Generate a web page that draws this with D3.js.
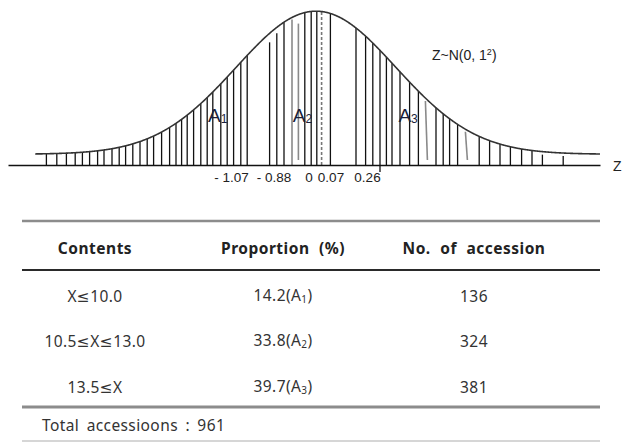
<!DOCTYPE html>
<html>
<head>
<meta charset="utf-8">
<script src="https://cdn.jsdelivr.net/npm/d3@7"></script>
<style>
  html, body { margin: 0; padding: 0; background: #fff; }
  svg { display: block; }
</style>
</head>
<body>
<svg id="chart" width="622" height="444"></svg>
<script>
// ---- Standard normal curve Z~N(0, 1²) with hatching ----
const zDomain = [-3.85, 3.55];          // extent of the Z axis
const curveZ = [-3.51, 3.55];           // extent of the drawn density curve

// hatch strokes under the curve (z positions)
const hatchZ = [
  -3.37, -3.24, -3.12, -3.01, -2.92, -2.83, -2.73, -2.65, -2.55, -2.46,
  -2.38, -2.29, -2.20, -2.11, -2.03, -1.93, -1.83, -1.75, -1.68, -1.61,
  -1.53, -1.44, -1.36, -1.29, -1.19, -1.11, -1.03, -0.94, -0.86,
  -0.40, -0.14, -0.06, 0.01,
  0.18, 0.50, 0.62, 0.71, 0.80, 0.88, 0.95, 1.05, 1.17, 1.28,
  1.50, 1.59, 1.67, 1.77, 2.04, 2.17, 2.30, 2.43, 2.57, 2.70
];
const looseHatchZ = [-0.58, -0.49];      // strokes stopping short of the curve
const greyHatchZ = [-0.30, -0.22, 1.38, 1.88];
const tailHatchZ = [2.83, 3.09];
const meanZ = 0.07;
const markedZ = 0.80;                    // stroke that runs through the axis

const zTickLabels = ["- 1.07", "- 0.88", "0", "0.07", "0.26"];
const areaLabels = ["A", "A", "A"];
const areaIndex = ["1", "2", "3"];
const distLabel = "Z~N(0, 1";
const axisName = "Z";

// ---- Table ----
const headers = ["Contents", "Proportion (%)", "No. of accession"];
const contents = ["X≤10.0", "10.5≤X≤13.0", "13.5≤X"];
const proportions = [14.2, 33.8, 39.7];
const accessions = [136, 324, 381];
const totalAccessions = 961;

// ---- drawing ----
const svg = d3.select("#chart");
const pdf = z => Math.exp(-z * z / 2) / Math.sqrt(2 * Math.PI);

const x = d3.scaleLinear().domain(zDomain).range([8, 600]);
const y = d3.scaleLinear().domain([-0.03, 0.4]).range([165, 10.8]);
const base = y(-0.03);

const plot = svg.append("g");

// hatching
plot.append("g").selectAll("line").data(hatchZ).join("line")
  .attr("x1", d => x(d)).attr("x2", d => x(d))
  .attr("y1", d => d === markedZ ? base + 7 : base)
  .attr("y2", d => y(pdf(d)))
  .attr("stroke", "#111").attr("stroke-width", 1.3);

plot.append("g").selectAll("line").data(looseHatchZ).join("line")
  .attr("x1", d => x(d)).attr("x2", d => x(d))
  .attr("y1", base)
  .attr("y2", (d, i) => y(pdf(d)) + (i === 0 ? 9 : 6))
  .attr("stroke", "#111").attr("stroke-width", 1.3);

plot.append("g").selectAll("line").data(greyHatchZ).join("line")
  .attr("x1", d => x(d) - (d > 1 ? 1 : 0)).attr("x2", d => x(d) + (d > 1 ? 1 : 0))
  .attr("y1", d => y(pdf(d)) + (d < 0 ? (d > -0.25 ? 9 : 2) : 2))
  .attr("y2", d => d < 0 && d < -0.25 ? base : base - 5)
  .attr("stroke", "#8a8a8a").attr("stroke-width", 1.6);

plot.append("g").selectAll("line").data(tailHatchZ).join("line")
  .attr("x1", d => x(d)).attr("x2", d => x(d))
  .attr("y1", d => y(pdf(d)) + 3)
  .attr("y2", base)
  .attr("stroke", "#111").attr("stroke-width", 1.3);

// dashed mean line
plot.append("line")
  .attr("x1", x(meanZ)).attr("x2", x(meanZ))
  .attr("y1", base).attr("y2", y(pdf(meanZ)))
  .attr("stroke", "#777").attr("stroke-width", 1.6)
  .attr("stroke-dasharray", "3,2");

// density curve
const pts = d3.range(curveZ[0], curveZ[1] + 1e-9, 0.01);
plot.append("path")
  .datum(pts)
  .attr("d", d3.line().x(d => x(d)).y(d => y(pdf(d))).curve(d3.curveBasis))
  .attr("fill", "none").attr("stroke", "#333").attr("stroke-width", 1.6);

// Z axis line
const axisG = plot.append("g").attr("transform", `translate(0,${base})`)
  .call(d3.axisBottom(x).tickValues([]).tickSizeOuter(0));
axisG.select(".domain").attr("stroke", "#111").attr("stroke-width", 1.5);

plot.append("text").attr("x", 613).attr("y", 171)
  .attr("font-family", "Liberation Sans, Arial, sans-serif")
  .attr("font-size", 14).attr("fill", "#222").text(axisName);

// cut-point labels below the axis
const tickLabelX = [231.5, 274, 309, 331, 367.5];
plot.append("g").selectAll("text").data(zTickLabels).join("text")
  .attr("x", (d, i) => tickLabelX[i]).attr("y", 182)
  .attr("text-anchor", "middle")
  .attr("font-family", "Liberation Sans, Arial, sans-serif")
  .attr("font-size", 13.5).attr("fill", "#222").text(d => d);

// area labels
const areaZ = [-1.35, -0.29, 1.03];
const aText = plot.append("g").selectAll("text").data(areaLabels).join("text")
  .attr("x", (d, i) => x(areaZ[i])).attr("y", 122)
  .attr("font-family", "Liberation Sans, Arial, sans-serif")
  .attr("font-size", 19).attr("fill", "#1a1f3a");
aText.append("tspan").text(d => d);
aText.append("tspan").attr("font-size", 12).attr("dy", 1).text((d, i) => areaIndex[i]);

// distribution note
const note = plot.append("text").attr("x", 432).attr("y", 60)
  .attr("font-family", "Liberation Sans, Arial, sans-serif")
  .attr("font-size", 14).attr("fill", "#222");
note.append("tspan").text(distLabel);
note.append("tspan").attr("font-size", 9).attr("dy", -5).text("2");
note.append("tspan").attr("dy", 5).text(")");

// ---- table ----
const tbl = svg.append("g");
const tableFont = "'Noto Sans', 'DejaVu Sans', sans-serif";
const colX = [95, 283, 474];
const rowY = [296, 341, 387];
const left = 22, right = 600;

tbl.append("line").attr("x1", left).attr("x2", right).attr("y1", 221).attr("y2", 221)
  .attr("stroke", "#8c8c8c").attr("stroke-width", 2.5);
tbl.append("line").attr("x1", left).attr("x2", right).attr("y1", 270).attr("y2", 270)
  .attr("stroke", "#2a2a2a").attr("stroke-width", 2);
tbl.append("line").attr("x1", left).attr("x2", right).attr("y1", 407).attr("y2", 407)
  .attr("stroke", "#8c8c8c").attr("stroke-width", 3);
tbl.append("line").attr("x1", left).attr("x2", right).attr("y1", 441).attr("y2", 441)
  .attr("stroke", "#c8c8c8").attr("stroke-width", 1.5);

tbl.append("g").selectAll("text").data(headers).join("text")
  .attr("x", (d, i) => colX[i]).attr("y", 248)
  .attr("text-anchor", "middle").attr("dominant-baseline", "central")
  .attr("font-family", tableFont).attr("font-weight", "bold")
  .attr("font-size", 15.5).attr("letter-spacing", 0.5).attr("word-spacing", 5)
  .attr("fill", "#222").text(d => d);

const bodyText = sel => sel
  .attr("font-family", tableFont).attr("font-size", 15.5)
  .attr("letter-spacing", 0.4).attr("word-spacing", 3).attr("fill", "#333");

const rows = tbl.append("g").selectAll("g").data(contents).join("g");
rows.append("text")
  .attr("x", colX[0]).attr("y", (d, i) => rowY[i])
  .attr("text-anchor", "middle").attr("dominant-baseline", "central")
  .call(bodyText)
  .text(d => d);

const propText = rows.append("text")
  .attr("x", colX[1]).attr("y", (d, i) => rowY[i] + 5)
  .attr("text-anchor", "middle")
  .call(bodyText);
propText.append("tspan").text((d, i) => `${proportions[i].toFixed(1)}(${areaLabels[i]}`);
propText.append("tspan").attr("font-size", 10).attr("dy", 2).text((d, i) => areaIndex[i]);
propText.append("tspan").attr("dy", -2).text(")");

rows.append("text")
  .attr("x", colX[2]).attr("y", (d, i) => rowY[i])
  .attr("text-anchor", "middle").attr("dominant-baseline", "central")
  .call(bodyText)
  .text((d, i) => accessions[i]);

tbl.append("text").attr("x", 42).attr("y", 425)
  .attr("dominant-baseline", "central")
  .call(bodyText)
  .text(`Total accessioons : ${totalAccessions}`);
</script>
</body>
</html>
